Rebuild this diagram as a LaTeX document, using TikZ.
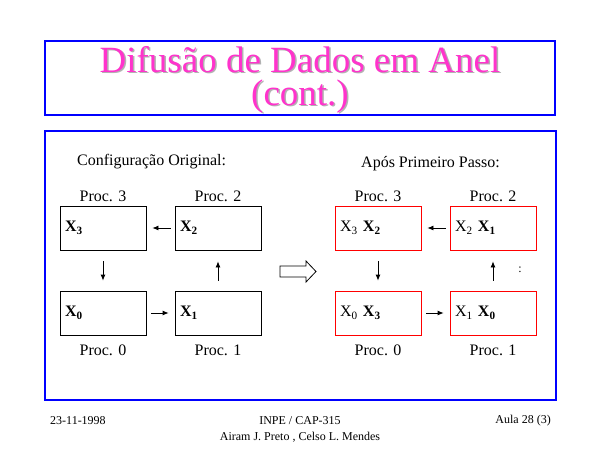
\documentclass[tikz,border=0pt]{standalone}
\usepackage{fontspec}
\setmainfont{Liberation Serif}
\usepackage{xcolor}
\usepackage{tikz}
\usetikzlibrary{positioning}
\usetikzlibrary{calc}
\usetikzlibrary{arrows.meta}
\definecolor{titlepink}{RGB}{255,51,204}
\definecolor{framecol}{RGB}{0,0,255}
\newcommand{\bX}[1]{\textbf{X}\textsubscript{\textbf{#1}}}
\newcommand{\rX}[1]{X\textsubscript{#1}}
\newcommand{\shadowed}[1]{\makebox[0pt][l]{\hspace{1.5pt}\raisebox{-1.5pt}{\color{gray!60}#1}}#1}
\tikzset{
    x=1pt, y=-1pt,
    frame/.style = {draw=framecol,line width=1.2pt},
    title text/.style = {anchor=base,inner sep=0,align=center,text=titlepink,font=\fontsize{37}{33}\selectfont},
    label text/.style = {inner sep=0,font=\fontsize{16}{19}\selectfont},
    foot text/.style = {inner sep=0,font=\fontsize{12}{14}\selectfont},
    proc box/.style = {draw,line width=0.8pt,minimum height=44pt,text width=76pt,inner xsep=5pt,align=left,font=\fontsize{16}{19}\selectfont},
    old box/.style = {proc box,draw=black},
    new box/.style = {proc box,draw=red},
    pass/.style = {-{Latex[length=6pt,width=5pt]},line width=0.8pt}
}
\begin{document}
\begin{tikzpicture}
    \useasboundingbox (0,0) rectangle (600,450);
    % title
    \draw[frame] (45,41) rectangle (555,115);
    \node(title)[title text] at (300,105) {\shadowed{Difusão de Dados em Anel}\\\shadowed{(cont.)}};
    \draw[frame] (45,131) rectangle (556,400);
    % configuracao original
    \node(head-old)[label text,anchor=west] at (77,162) {Configuração Original:};
    \node(p3)[old box] at (103,228) {\bX{3}};
    \node(p2)[old box] at (218,228) {\bX{2}};
    \node(p0)[old box] at (103,313) {\bX{0}};
    \node(p1)[old box] at (218,313) {\bX{1}};
    \node[label text,above=4pt of p3]{Proc. 3};
    \node[label text,above=4pt of p2]{Proc. 2};
    \node[label text,below=9pt of p0]{Proc. 0};
    \node[label text,below=9pt of p1]{Proc. 1};
    \draw[pass,shorten <=4pt,shorten >=6pt] (p2) -- (p3);
    \draw[pass,shorten <=11pt,shorten >=10pt] (p3) -- (p0);
    \draw[pass,shorten <=5pt,shorten >=6pt] (p0) -- (p1);
    \draw[pass,shorten <=10pt,shorten >=11pt] (p1) -- (p2);
    % seta
    \draw[line width=0.8pt] (280,266) -- (306,266) -- (306,261) -- (316,271.5) -- (306,282) -- (306,277) -- (280,277) -- cycle;
    % apos primeiro passo
    \node(head-new)[label text,anchor=west] at (361,164) {Após Primeiro Passo:};
    \node(q3)[new box] at (378,228) {\rX{3} \bX{2}};
    \node(q2)[new box] at (493,228) {\rX{2} \bX{1}};
    \node(q0)[new box] at (378,313) {\rX{0} \bX{3}};
    \node(q1)[new box] at (493,313) {\rX{1} \bX{0}};
    \node[label text,above=4pt of q3]{Proc. 3};
    \node[label text,above=4pt of q2]{Proc. 2};
    \node[label text,below=9pt of q0]{Proc. 0};
    \node[label text,below=9pt of q1]{Proc. 1};
    \draw[pass,shorten <=4pt,shorten >=6pt] (q2) -- (q3);
    \draw[pass,shorten <=11pt,shorten >=10pt] (q3) -- (q0);
    \draw[pass,shorten <=5pt,shorten >=6pt] (q0) -- (q1);
    \draw[pass,shorten <=10pt,shorten >=11pt] (q1) -- (q2);
    \node(dots)[foot text] at (520,270) {:};
    % rodape
    \node(date)[foot text,anchor=west] at (50,421) {23-11-1998};
    \node(course)[foot text] at (300,421) {INPE / CAP-315};
    \node(authors)[foot text] at (300,437) {Airam J. Preto , Celso L. Mendes};
    \node(lecture)[foot text,anchor=east] at (551,421) {Aula 28 (3)};
\end{tikzpicture}
\end{document}
